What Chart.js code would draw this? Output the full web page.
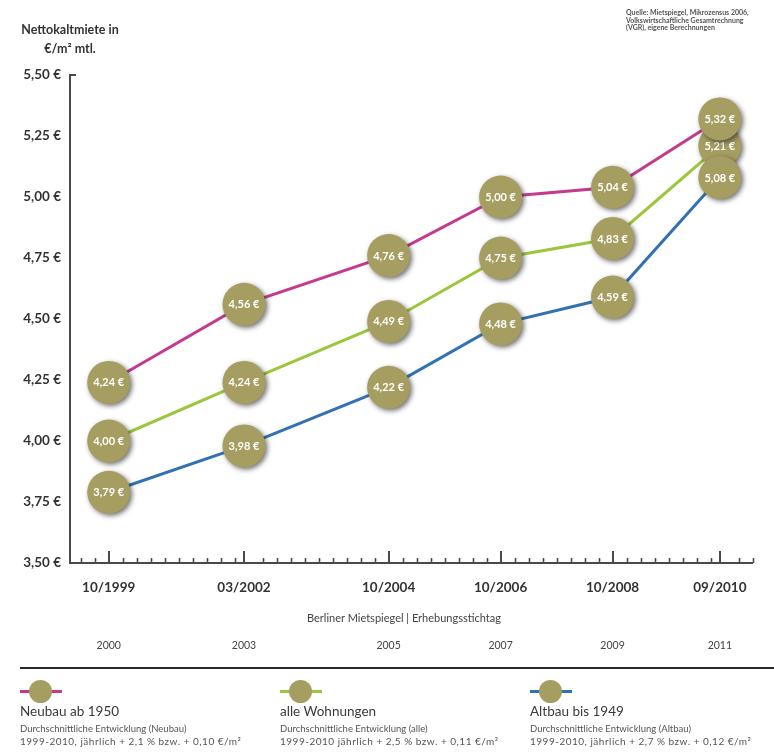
<!DOCTYPE html>
<html lang="de">
<head>
<meta charset="utf-8">
<title>Nettokaltmiete Berlin</title>
<script src="https://cdn.jsdelivr.net/npm/chart.js@4.4.1/dist/chart.umd.min.js"></script>
<style>
  html, body { margin: 0; padding: 0; background: #fff; }
  #wrap { position: relative; width: 774px; height: 756px; overflow: hidden;
          font-family: Lato, "Open Sans", sans-serif; color: #3a3a3a; }
  #wrap canvas { position: absolute; left: 0; top: 0; }
  .t { position: absolute; white-space: nowrap; }
  .unit { left: 8px; top: 20px; width: 124px; text-align: center; font-weight: bold;
          font-size: 12.5px; line-height: 19px; color: #333; }
  .src { left: 626px; top: 9px; font-size: 7px; line-height: 7.6px; font-weight: bold; color: #555; }
  .axisTitle { left: 404px; top: 611px; transform: translateX(-50%); font-size: 11px; color: #444; }
  .rule { position: absolute; left: 20px; right: 0; top: 667px; height: 2px; background: #2a2a2a; }
  .leg { position: absolute; top: 678px; }
  .leg .bar { position: absolute; left: 0; top: 12px; width: 42px; height: 3px; }
  .leg .dot { position: absolute; left: 9px; top: 2px; width: 23px; height: 23px; border-radius: 50%;
              background: #a69d60; }
  .leg .name { position: absolute; left: 0; top: 25px; font-size: 13.5px; color: #3a3a3a; white-space: nowrap; }
  .leg .sub  { position: absolute; left: 0; top: 45px; font-size: 9.5px; color: #555; white-space: nowrap; line-height: 12px; }
  .leg .rate { letter-spacing: 0.5px; font-size: 10px; }
</style>
</head>
<body>
<div id="wrap">
  <canvas id="chart" width="774" height="756"></canvas>
  <div class="t unit">Nettokaltmiete in<br>€/m² mtl.</div>
  <div class="t src">Quelle: Mietspiegel, Mikrozensus 2006,<br>Volkswirtschaftliche Gesamtrechnung<br>(VGR), eigene Berechnungen</div>
  <div class="t axisTitle">Berliner Mietspiegel | Erhebungsstichtag</div>
  <div class="rule"></div>
  <div id="legend"></div>
</div>
<script>
// Survey dates of the Berlin rent index and the year each index applies to
const periods = ['10/1999', '03/2002', '10/2004', '10/2006', '10/2008', '09/2010'];
const surveyYears = ['2000', '2003', '2005', '2007', '2009', '2011'];

// Average net rent (EUR per m² and month)
const neubau = [4.24, 4.56, 4.76, 5.00, 5.04, 5.32];
const alleWohnungen = [4.00, 4.24, 4.49, 4.75, 4.83, 5.21];
const altbau = [3.79, 3.98, 4.22, 4.48, 4.59, 5.08];

// Value axis
const yMin = 3.5, yMax = 5.5, yStep = 0.25;

// Legend texts
const legendNames = ['Neubau ab 1950', 'alle Wohnungen', 'Altbau bis 1949'];
const legendTrend = ['Durchschnittliche Entwicklung (Neubau)', 'Durchschnittliche Entwicklung (alle)', 'Durchschnittliche Entwicklung (Altbau)'];
const legendRate = ['1999-2010, jährlich + 2,1 % bzw. + 0,10 €/m²', '1999-2010 jährlich + 2,5 % bzw. + 0,11 €/m²', '1999-2010, jährlich + 2,7 % bzw. + 0,12 €/m²'];

const COLORS = { neubau: '#c43a8f', alle: '#9cc63b', altbau: '#3372b2', bubble: '#a69d60', axis: '#4a4a4a' };

// months elapsed since October 1999
function monthOffset(p) {
  const [m, y] = p.split('/').map(Number);
  return (y - 1999) * 12 + (m - 10);
}
const months = periods.map(monthOffset);
const fmtEuro = v => v.toFixed(2).replace('.', ',') + ' €';
const toPoints = vals => vals.map((v, i) => ({ x: months[i], y: v }));

const series = [
  { key: 'neubau', values: neubau, color: COLORS.neubau, order: 2 },
  { key: 'alle', values: alleWohnungen, color: COLORS.alle, order: 3 },
  { key: 'altbau', values: altbau, color: COLORS.altbau, order: 1 }
];

const lineSets = series.map(s => ({
  label: s.key, data: toPoints(s.values), borderColor: s.color, borderWidth: 3,
  pointRadius: 0, tension: 0, order: 10, clip: false
}));
const bubbleSets = series.map(s => ({
  label: s.key + '-werte', data: toPoints(s.values), showLine: false,
  pointRadius: 21.5, pointBackgroundColor: COLORS.bubble, pointBorderWidth: 0,
  order: s.order, clip: false, isBubble: true
}));

// olive value bubbles with soft shadow and white value text
const bubbleLabels = {
  id: 'bubbleLabels',
  beforeDatasetDraw(chart, args) {
    if (!chart.data.datasets[args.index].isBubble) return;
    const ctx = chart.ctx;
    ctx.save();
    ctx.shadowColor = 'rgba(35,35,35,0.65)';
    ctx.shadowBlur = 5;
    ctx.shadowOffsetX = 2;
    ctx.shadowOffsetY = 2;
  },
  afterDatasetDraw(chart, args) {
    const ds = chart.data.datasets[args.index];
    if (!ds.isBubble) return;
    const ctx = chart.ctx;
    ctx.restore();
    ctx.save();
    ctx.fillStyle = '#ffffff';
    ctx.font = 'bold 11px Lato, sans-serif';
    ctx.textAlign = 'center';
    ctx.textBaseline = 'middle';
    args.meta.data.forEach((pt, i) => ctx.fillText(fmtEuro(ds.data[i].y), pt.x, pt.y + 0.5));
    ctx.restore();
  }
};

// inward tick marks on the time axis (quarterly minor, survey dates major) and top cap of the value axis
const axisMarks = {
  id: 'axisMarks',
  beforeDatasetsDraw(chart) {
    const { ctx, chartArea } = chart;
    const x = chart.scales.x;
    const base = chartArea.bottom;
    ctx.save();
    ctx.strokeStyle = COLORS.axis;
    ctx.lineWidth = 1.6;
    ctx.beginPath();
    for (let m = -6; m <= x.max; m += 3) {
      if (months.some(v => Math.abs(v - m) < 2)) continue;
      const px = Math.round(x.getPixelForValue(m)) + 0.5;
      ctx.moveTo(px, base);
      ctx.lineTo(px, base - 5);
    }
    ctx.stroke();
    ctx.lineWidth = 2;
    ctx.beginPath();
    months.forEach(m => {
      const px = Math.round(x.getPixelForValue(m));
      ctx.moveTo(px, base);
      ctx.lineTo(px, base - 12);
    });
    ctx.moveTo(chartArea.left, chartArea.top);
    ctx.lineTo(chartArea.left + 6, chartArea.top);
    ctx.stroke();
    ctx.restore();
  }
};

const majorTicks = s => { s.ticks = months.map(v => ({ value: v })); };

new Chart(document.getElementById('chart'), {
  type: 'line',
  data: { datasets: [...lineSets, ...bubbleSets] },
  options: {
    responsive: false,
    animation: false,
    events: [],
    layout: { padding: { top: 75, right: 0, bottom: 93, left: 0 } },
    plugins: { legend: { display: false }, tooltip: { enabled: false } },
    scales: {
      x: {
        type: 'linear', position: 'bottom', min: -8.3, max: 138,
        afterBuildTicks: majorTicks,
        afterFit: s => { s.height = 70; },
        grid: { display: false, drawTicks: false },
        border: { display: true, width: 2, color: COLORS.axis },
        ticks: {
          autoSkip: false, maxRotation: 0, padding: 17, color: '#333',
          font: { family: 'Lato', weight: 'bold', size: 13.5 },
          callback: (v, i) => periods[i]
        }
      },
      x2: {
        type: 'linear', position: 'bottom', min: -8.3, max: 138,
        afterBuildTicks: majorTicks,
        afterFit: s => { s.height = 30; },
        grid: { display: false, drawTicks: false },
        border: { display: false },
        ticks: {
          autoSkip: false, maxRotation: 0, padding: 6, color: '#444',
          font: { family: 'Lato', size: 10.5 },
          callback: (v, i) => surveyYears[i]
        }
      },
      y: {
        min: yMin, max: yMax,
        afterFit: s => { s.width = 70; },
        grid: { display: false, drawTicks: false },
        border: { display: true, width: 2, color: COLORS.axis },
        ticks: {
          stepSize: yStep, padding: 9, color: '#333',
          font: { family: 'Lato', weight: 'bold', size: 13.5 },
          callback: v => fmtEuro(v)
        }
      }
    }
  },
  plugins: [axisMarks, bubbleLabels]
});

// legend below the divider rule
const legendLeft = [20, 280, 530];
const legendColors = [COLORS.neubau, COLORS.alle, COLORS.altbau];
const legend = document.getElementById('legend');
legendNames.forEach((name, i) => {
  const el = document.createElement('div');
  el.className = 'leg';
  el.style.left = legendLeft[i] + 'px';
  el.innerHTML = '<div class="bar" style="background:' + legendColors[i] + '"></div>' +
    '<div class="dot"></div>' +
    '<div class="name">' + name + '</div>' +
    '<div class="sub">' + legendTrend[i] + '<br><span class="rate">' + legendRate[i] + '</span></div>';
  legend.appendChild(el);
});
</script>
</body>
</html>
